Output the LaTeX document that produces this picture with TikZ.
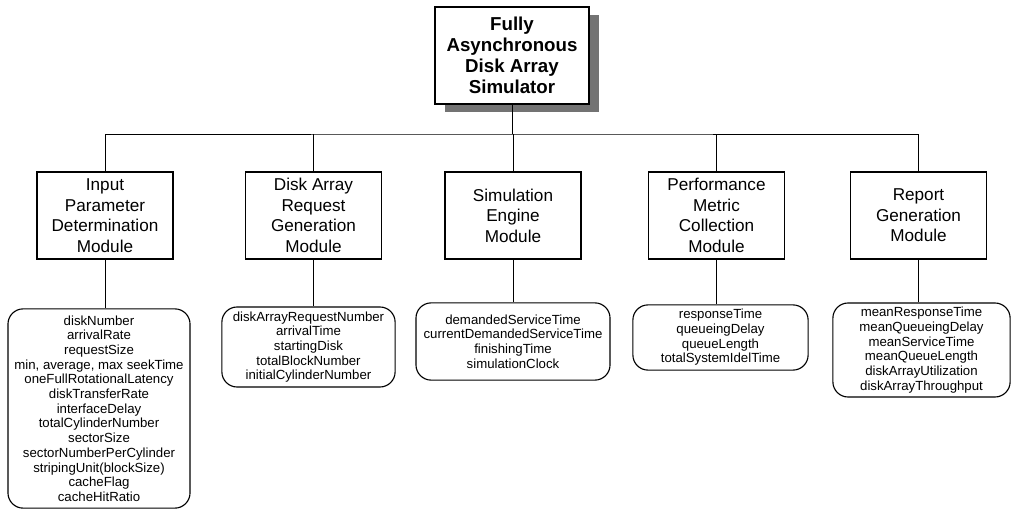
\documentclass[tikz,border=0pt]{standalone}
\usepackage{fontspec}
\setmainfont{Liberation Sans}
\usetikzlibrary{shadows}

\tikzset{
  titlebox/.style={draw,line width=1.5pt,fill=white,align=center,
    minimum width=3.85cm,minimum height=2.42cm,
    font=\fontsize{13.3}{15}\selectfont\bfseries,
    drop shadow={shadow xshift=0.26cm,shadow yshift=-0.2cm,fill=black!55,opacity=1}},
  modbox/.style={draw,line width=0.9pt,align=center,
    minimum width=3.4cm,minimum height=2.18cm,
    font=\fontsize{12.2}{14.6}\selectfont},
  attrbox/.style={draw,line width=0.8pt,rounded corners=0.38cm,align=center,
    inner sep=0pt,font=\fontsize{9.4}{10.45}\selectfont},
  link/.style={line width=0.7pt}
}

\begin{document}
\begin{tikzpicture}[x=0.025cm,y=-0.025cm]
  \useasboundingbox (0,0) rectangle (1016,510);
  % top of the tree
  \node[titlebox] (sim) at (512,55.5) {Fully\\Asynchronous\\Disk Array\\Simulator};
  \coordinate (bus) at (512,134);
  % modules
  \node[modbox] (input)  at (105,215.5)   {Input\\Parameter\\Determination\\Module};
  \node[modbox] (req)    at (313.5,215.5) {Disk Array\\Request\\Generation\\Module};
  \node[modbox] (engine) at (513,215.5)   {Simulation\\Engine\\Module};
  \node[modbox] (perf)   at (716.5,215.5) {Performance\\Metric\\Collection\\Module};
  \node[modbox] (report) at (918.5,215.5) {Report\\Generation\\Module};
  % attribute lists
  \node[attrbox,minimum width=4.55cm,minimum height=4.98cm] (inputvars) at (99,408.5)
    {diskNumber\\arrivalRate\\requestSize\\min, average, max seekTime\\oneFullRotationalLatency\\
     diskTransferRate\\interfaceDelay\\totalCylinderNumber\\sectorSize\\sectorNumberPerCylinder\\
     stripingUnit(blockSize)\\cacheFlag\\cacheHitRatio};
  \node[attrbox,minimum width=4.33cm,minimum height=2cm] (reqvars) at (308.5,347)
    {diskArrayRequestNumber\\arrivalTime\\startingDisk\\totalBlockNumber\\initialCylinderNumber};
  \node[attrbox,minimum width=4.85cm,minimum height=1.93cm] (enginevars) at (513,341.5)
    {demandedServiceTime\\currentDemandedServiceTime\\finishingTime\\simulationClock};
  \node[attrbox,minimum width=4.38cm,minimum height=1.63cm] (perfvars) at (720.5,337.5)
    {responseTime\\queueingDelay\\queueLength\\totalSystemIdelTime};
  \node[attrbox,minimum width=4.43cm,minimum height=2.35cm] (reportvars) at (921.5,350)
    {meanResponseTime\\meanQueueingDelay\\meanServiceTime\\meanQueueLength\\
     diskArrayUtilization\\diskArrayThroughput};
  % connectors
  \draw[link] (sim.south) -- (bus);
  \draw[link] (input.north) |- (bus) -| (report.north);
  \draw[link] (req.north) -- (req.north |- bus);
  \draw[link] (engine.north) -- (engine.north |- bus);
  \draw[link] (perf.north) -- (perf.north |- bus);
  \draw[link] (input.south) -- (input.south |- inputvars.north);
  \draw[link] (req.south) -- (req.south |- reqvars.north);
  \draw[link] (engine.south) -- (engine.south |- enginevars.north);
  \draw[link] (perf.south) -- (perf.south |- perfvars.north);
  \draw[link] (report.south) -- (report.south |- reportvars.north);
\end{tikzpicture}
\end{document}
